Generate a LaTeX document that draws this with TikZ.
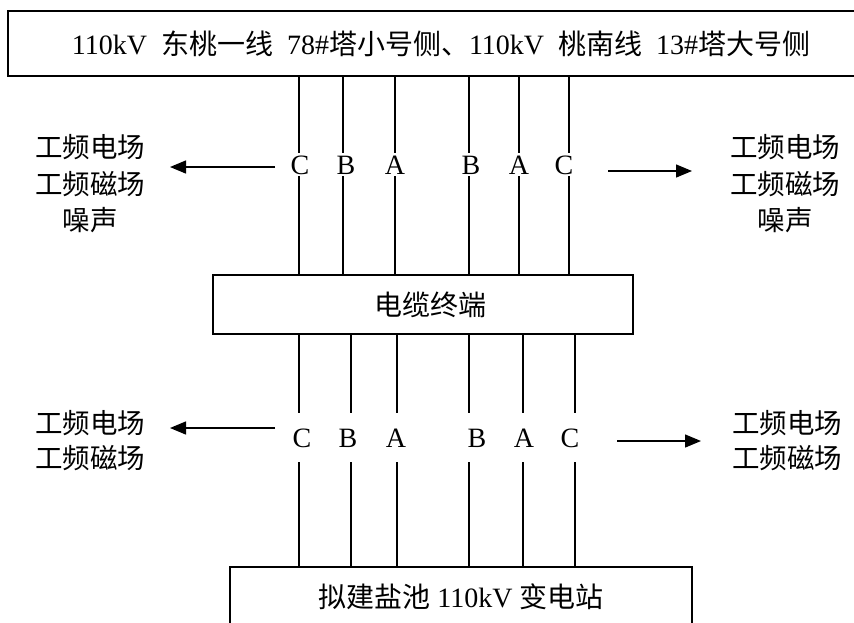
\documentclass[tikz,border=0pt]{standalone}
\usepackage{fontspec}
\setmainfont{Liberation Serif}
\newfontfamily\cjk{Noto Sans CJK SC}
\usetikzlibrary{arrows.meta}
\begin{document}
\begin{tikzpicture}[x=1pt,y=-1pt,
  every node/.style={font=\fontsize{28}{33}\selectfont},
  box/.style={draw, line width=1.3pt, inner sep=0pt},
  ph/.style={inner xsep=0pt, text height=19pt, text depth=0pt},
  phtop/.style={ph, inner ysep=2pt},
  phbot/.style={ph, inner ysep=15pt},
  wire/.style={line width=1.4pt},
  arr/.style={line width=1.4pt, -{Triangle[length=16pt,width=13pt]}},
  lbl/.style={font=\cjk\fontsize{27.5}{33}\selectfont}
]
\useasboundingbox (0,0) rectangle (854,622);

% boxes
\node[box, minimum width=866pt, minimum height=65pt] (top) at (441,43.5)
  {110kV\ \ {\cjk 东桃一线}\ \ 78\#{\cjk 塔小号侧、}110kV\ \ {\cjk 桃南线}\ \ 13\#{\cjk 塔大号侧}};
\node[box, minimum width=420pt, minimum height=59pt] (cab) at (423,304.5)
  {\hspace*{14pt}{\cjk 电缆终端}};
\node[box, minimum width=462pt, minimum height=60pt] (sub) at (461,597)
  {{\cjk 拟建盐池} 110kV {\cjk 变电站}};

% phase letters, upper run
\node[phtop] (tC1) at (300,164.5) {C};
\node[phtop] (tB1) at (346,164.5) {B};
\node[phtop] (tA1) at (395,164.5) {A};
\node[phtop] (tB2) at (471,164.5) {B};
\node[phtop] (tA2) at (519,164.5) {A};
\node[phtop] (tC2) at (564,164.5) {C};

% phase letters, lower run
\node[phbot] (bC1) at (302,437.5) {C};
\node[phbot] (bB1) at (348,437.5) {B};
\node[phbot] (bA1) at (396,437.5) {A};
\node[phbot] (bB2) at (477,437.5) {B};
\node[phbot] (bA2) at (524,437.5) {A};
\node[phbot] (bC2) at (570,437.5) {C};

% wires
\foreach \n/\dx in {tC1/-1,tB1/-3,tA1/0,tB2/-2,tA2/0,tC2/5}{
  \path ([xshift=\dx pt]\n.north) coordinate (u);
  \path ([xshift=\dx pt]\n.south) coordinate (v);
  \draw[wire] (u |- top.south) -- (u);
  \draw[wire] (v) -- (v |- cab.north);
}
\foreach \n/\dx in {bC1/-3,bB1/3,bA1/1,bB2/-8,bA2/-1,bC2/5}{
  \path ([xshift=\dx pt]\n.north) coordinate (u);
  \path ([xshift=\dx pt]\n.south) coordinate (v);
  \draw[wire] (u |- cab.south) -- (u);
  \draw[wire] (v) -- (v |- sub.north);
}

% effect labels
\node[lbl] (l1) at (90,147) {工频电场};
\node[lbl] (l2) at (90,184) {工频磁场};
\node[lbl] (l3) at (90,220) {噪声};
\node[lbl] (r1) at (785,147) {工频电场};
\node[lbl] (r2) at (785,184) {工频磁场};
\node[lbl] (r3) at (785,220) {噪声};
\node[lbl] (l4) at (90,423) {工频电场};
\node[lbl] (l5) at (90,458) {工频磁场};
\node[lbl] (r4) at (787,423) {工频电场};
\node[lbl] (r5) at (787,458) {工频磁场};

% arrows
\coordinate (a1s) at (275,167); \coordinate (a1e) at (170,167);
\coordinate (a2s) at (608,171); \coordinate (a2e) at (692,171);
\coordinate (a3s) at (275,428); \coordinate (a3e) at (170,428);
\coordinate (a4s) at (617,441); \coordinate (a4e) at (701,441);
\draw[arr] (a1s) -- (a1e);
\draw[arr] (a2s) -- (a2e);
\draw[arr] (a3s) -- (a3e);
\draw[arr] (a4s) -- (a4e);
\end{tikzpicture}
\end{document}
